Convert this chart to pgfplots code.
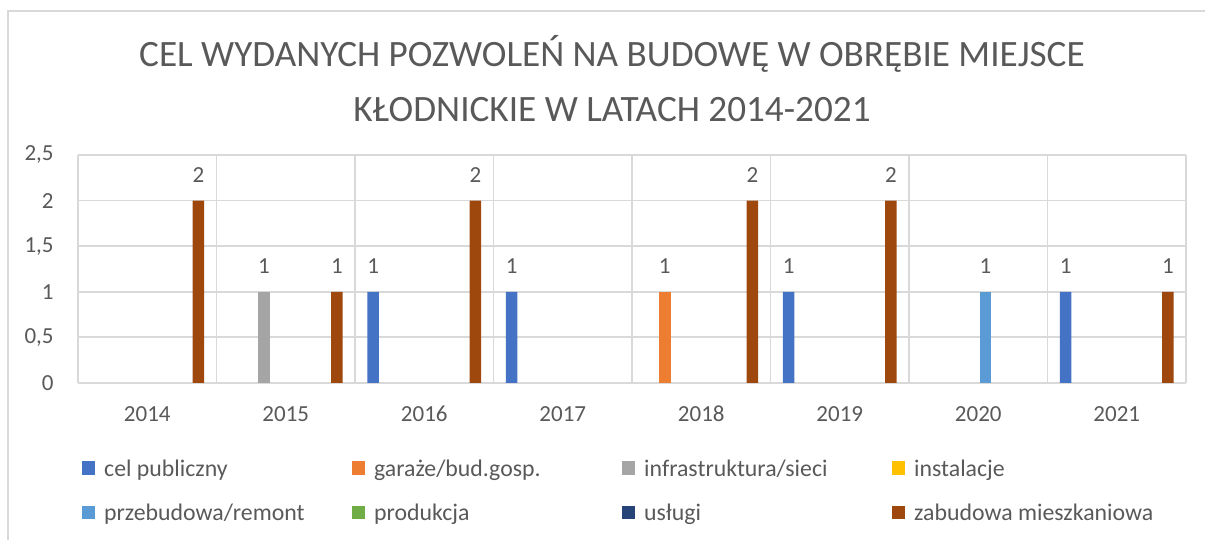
\documentclass[border=0pt]{standalone}
\usepackage{fontspec}
\setmainfont{Carlito}
\usepackage{pgfplots}
\pgfplotsset{compat=1.18}

\definecolor{txt}{HTML}{595959}
\definecolor{gridc}{HTML}{D9D9D9}
\definecolor{cpub}{HTML}{4472C4}
\definecolor{cgar}{HTML}{ED7D31}
\definecolor{cinf}{HTML}{A5A5A5}
\definecolor{cins}{HTML}{FFC000}
\definecolor{cprz}{HTML}{5B9BD5}
\definecolor{cpro}{HTML}{70AD47}
\definecolor{cusl}{HTML}{264478}
\definecolor{czab}{HTML}{9E480E}

\newcommand{\legtxt}[1]{\makebox[123.9pt][l]{\strut #1}}
% one category = 554pt/8 = 69.25pt; labels are moved by hand with the bar
\pgfplotsset{
  slot/.style args={#1/#2}{ybar, draw=none, bar width=0.083, bar shift=#1,
    every node near coord/.append style={xshift=#2}},
}

\begin{document}
\begin{tikzpicture}
\useasboundingbox (0,0) rectangle (602.5pt,270pt);
\draw[gridc, line width=0.9pt] (4pt,0) -- (4pt,264.5pt) -- (603pt,264.5pt);

\node[anchor=base, text=txt, font=\fontsize{18.6}{22}\selectfont] at (306pt,236.5pt)
  {CEL WYDANYCH POZWOLEŃ NA BUDOWĘ W OBRĘBIE MIEJSCE};
\node[anchor=base, text=txt, font=\fontsize{18.6}{22}\selectfont] at (306pt,209pt)
  {KŁODNICKIE W LATACH 2014-2021};

\begin{axis}[
  at={(39pt,78.5pt)}, anchor=south west,
  scale only axis, width=554pt, height=114pt,
  xmin=-0.5, xmax=7.5, ymin=0, ymax=2.5,
  xtick={0,...,7},
  xticklabels={2014,2015,2016,2017,2018,2019,2020,2021},
  minor xtick={-0.5,0.5,1.5,2.5,3.5,4.5,5.5,6.5,7.5},
  ytick={0,0.5,1,1.5,2,2.5},
  xmajorgrids=false, xminorgrids=true, ymajorgrids=true,
  grid style={gridc, line width=0.9pt},
  minor grid style={gridc, line width=0.9pt},
  axis line style={draw=none},
  major tick length=0pt, minor tick length=0pt,
  tick style={draw=none},
  /pgf/number format/assume math mode=true,
  /pgf/number format/use comma,
  /pgf/number format/1000 sep={},
  ticklabel style={font=\fontsize{11.5}{14}\selectfont, text=txt, inner sep=0pt},
  xticklabel style={anchor=base, yshift=-19.5pt},
  yticklabel style={xshift=-12pt},
  nodes near coords,
  every node near coord/.append style={font=\fontsize{11.5}{14}\selectfont, text=txt,
    anchor=south, inner sep=0pt, yshift=8.8pt},
  legend columns=4,
  legend cell align=left,
  legend image code/.code={\fill[#1] (0pt,-3.3pt) rectangle (6.6pt,3.3pt);},
  legend style={at={(axis description cs:0.0036,-0.323)}, anchor=north west,
    draw=none, fill=none, inner sep=0pt, outer sep=0pt,
    font=\fontsize{11.9}{14}\selectfont, text=txt,
    nodes={inner sep=0pt},
    /tikz/every odd column/.append style={column sep=4.5pt},
    /tikz/row sep=11pt},
]
\addplot[slot={-0.369/-25.55pt}, fill=cpub]
  coordinates {(2,1) (3,1) (5,1) (7,1)};
\addlegendentry{\legtxt{cel publiczny}}
\addplot[slot={-0.2635/-18.25pt}, fill=cgar]
  coordinates {(4,1)};
\addlegendentry{\legtxt{garaże/bud.gosp.}}
\addplot[slot={-0.158/-10.94pt}, fill=cinf]
  coordinates {(1,1)};
\addlegendentry{\legtxt{infrastruktura/sieci}}
\addlegendimage{fill=cins, draw=none}
\addlegendentry{\legtxt{instalacje}}
\addplot[slot={0.0527/3.65pt}, fill=cprz]
  coordinates {(6,1)};
\addlegendentry{\legtxt{przebudowa/remont}}
\addlegendimage{fill=cpro, draw=none}
\addlegendentry{\legtxt{produkcja}}
\addlegendimage{fill=cusl, draw=none}
\addlegendentry{\legtxt{usługi}}
\addplot[slot={0.369/25.55pt}, fill=czab]
  coordinates {(0,2) (1,1) (2,2) (4,2) (5,2) (7,1)};
\addlegendentry{\legtxt{zabudowa mieszkaniowa}}
\end{axis}
\end{tikzpicture}
\end{document}
